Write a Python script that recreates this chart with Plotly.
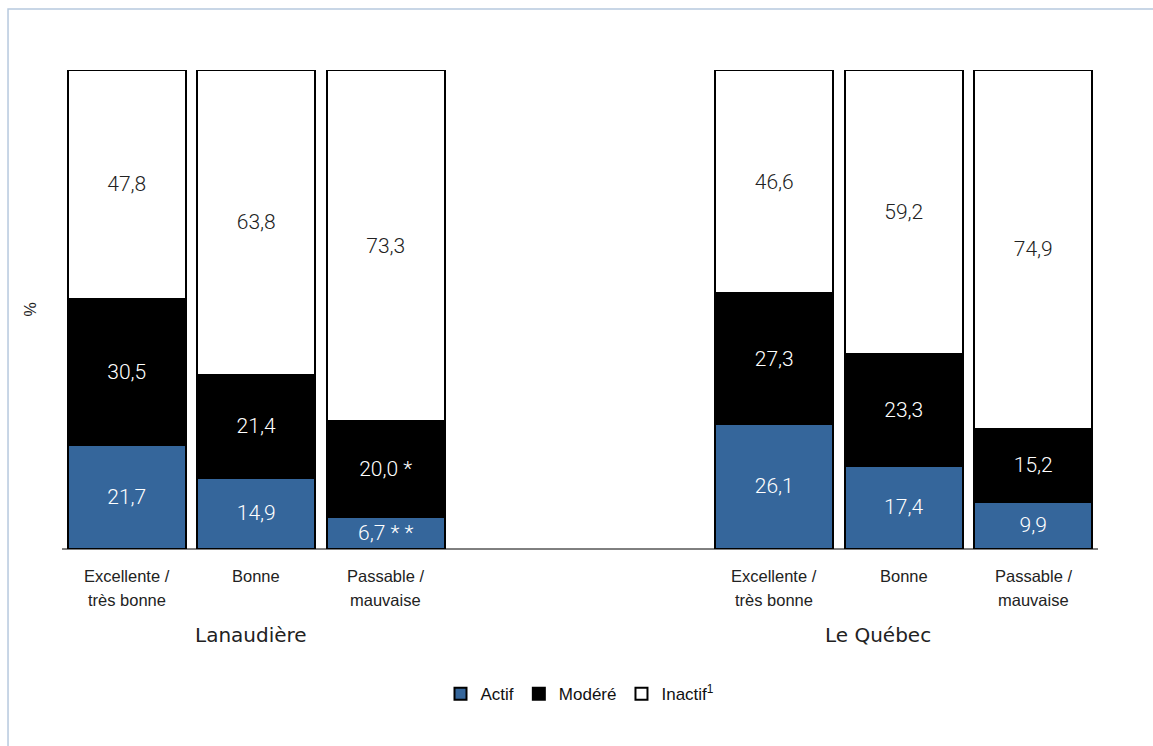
import plotly.graph_objects as go

# Niveau d'activité physique selon la perception de l'état de santé
regions = ["Lanaudière", "Le Québec"]
sante = ["Excellente /\ntrès bonne", "Bonne", "Passable /\nmauvaise"]

actif = [21.7, 14.9, 6.7, 26.1, 17.4, 9.9]
modere = [30.5, 21.4, 20.0, 27.3, 23.3, 15.2]
inactif = [47.8, 63.8, 73.3, 46.6, 59.2, 74.9]

# Indicateurs de précision (coefficient de variation)
cv_actif = ["", "", " * *", "", "", ""]
cv_modere = ["", "", " *", "", "", ""]
cv_inactif = ["", "", "", "", "", ""]

# Positions: three bars per region, two empty slots between regions
positions = [0, 1, 2, 5, 6, 7]
region_pos = [0.96, 5.8]

BLUE = "#35669b"
VAL_FONT = "Roboto"
TXT_FONT = "Liberation Sans"


def fmt(values, flags):
    return [f"{v:.1f}".replace(".", ",") + f for v, f in zip(values, flags)]


fig = go.Figure()

series = [
    ("Actif", actif, cv_actif, BLUE, "white"),
    ("Modéré", modere, cv_modere, "#000000", "white"),
    ("Inactif<sup>1</sup>", inactif, cv_inactif, "#ffffff", "#222222"),
]
for name, vals, flags, color, tcolor in series:
    fig.add_trace(go.Bar(
        x=positions, y=vals, name=name,
        marker=dict(color=color, line=dict(color="#000000", width=2)),
        text=fmt(vals, flags), textposition="inside",
        insidetextanchor="middle", constraintext="none",
        textfont=dict(family=VAL_FONT, size=21, color=tcolor, weight=300),
        width=0.91, hoverinfo="skip",
    ))

annotations = []
# Category labels, one line per annotation
for p, lab in zip(positions, sante * 2):
    for i, line in enumerate(lab.split("\n")):
        annotations.append(dict(
            x=p, y=-0.057 - i * 0.05, xref="x", yref="paper",
            text=line, showarrow=False, yanchor="middle",
            font=dict(family=TXT_FONT, size=16.5, color="#222222"),
        ))
# Region labels
for p, r in zip(region_pos, regions):
    annotations.append(dict(
        x=p, y=-0.18, xref="x", yref="paper", text=r, showarrow=False,
        yanchor="middle",
        font=dict(family="DejaVu Sans", size=20, color="#222222", weight=400),
    ))
# Y axis title
annotations.append(dict(
    x=-0.041, y=0.5, xref="paper", yref="paper", text="%", textangle=-90,
    showarrow=False, font=dict(family=TXT_FONT, size=16, color="#222222"),
))

fig.update_layout(
    width=1153, height=746,
    margin=dict(l=62, r=55, t=70, b=197),
    barmode="stack",
    paper_bgcolor="white", plot_bgcolor="white",
    showlegend=True,
    legend=dict(
        orientation="h", x=0.5, xanchor="center", y=-0.303, yanchor="middle",
        font=dict(family=TXT_FONT, size=17, color="#111111"),
        itemwidth=30, traceorder="normal",
    ),
    xaxis=dict(
        range=[-0.5, 7.5], showticklabels=False, ticks="",
        showgrid=False, zeroline=False, showline=False, fixedrange=True,
    ),
    yaxis=dict(
        range=[0, 100], showticklabels=False, ticks="",
        showgrid=False, zeroline=False, showline=False,
    ),
    annotations=annotations,
    shapes=[
        # Baseline
        dict(type="line", xref="paper", yref="paper", x0=0, x1=1, y0=0, y1=0,
             line=dict(color="#000000", width=1), layer="below"),
        # Outer frame
        dict(type="rect", xref="paper", yref="paper",
             x0=-0.0521, x1=1.07, y0=-0.45, y1=1.1273,
             line=dict(color="#b7c9de", width=1.5), fillcolor="rgba(0,0,0,0)"),
    ],
)

fig.write_html("out.html")
